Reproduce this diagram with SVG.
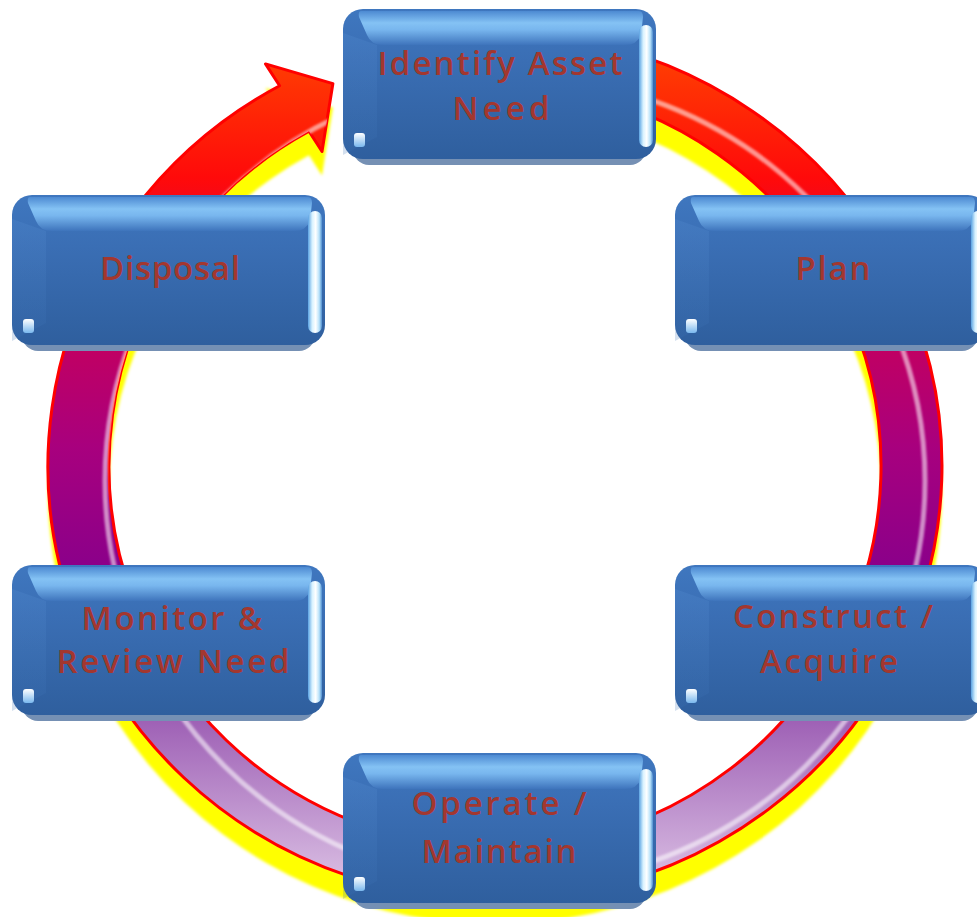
<svg xmlns="http://www.w3.org/2000/svg" xmlns:xlink="http://www.w3.org/1999/xlink" width="977" height="917" viewBox="0 0 977 917">
  <defs>
    <style>
      .t { font-family: "Open Sans", "Liberation Sans", Arial, sans-serif; font-size: 33px; font-weight: 600; fill: #a3372f; text-anchor: middle; }
    </style>
    <linearGradient id="ringFill" gradientUnits="userSpaceOnUse" x1="0" y1="30" x2="0" y2="900">
      <stop offset="0" stop-color="#ff4a00"/>
      <stop offset="0.17" stop-color="#ff0a0a"/>
      <stop offset="0.33" stop-color="#c8005a"/>
      <stop offset="0.48" stop-color="#a8007e"/>
      <stop offset="0.62" stop-color="#8a008a"/>
      <stop offset="0.78" stop-color="#9a5ab2"/>
      <stop offset="1" stop-color="#e0c8e8"/>
    </linearGradient>
    <filter id="soft" x="-5%" y="-5%" width="110%" height="110%">
      <feGaussianBlur stdDeviation="1.3"/>
    </filter>
    <filter id="soft2" x="-5%" y="-5%" width="110%" height="110%">
      <feGaussianBlur stdDeviation="1.8"/>
    </filter>
    <path id="band" d="M 572.6 38.6 A 447 434 0 1 1 279.6 85.7 L 265.5 63.9 L 332.9 83.6 L 322 151.5 L 309 131.3 A 386 382 0 1 0 562 89.8 Z"/>
    <clipPath id="bandClip">
      <use xlink:href="#band"/>
    </clipPath>
    <linearGradient id="bodyG" x1="0" y1="0" x2="0" y2="1">
      <stop offset="0" stop-color="#3f77bf"/>
      <stop offset="0.35" stop-color="#3a6eb4"/>
      <stop offset="1" stop-color="#2f5f9e"/>
    </linearGradient>
    <linearGradient id="topG" x1="0" y1="0" x2="0" y2="1">
      <stop offset="0" stop-color="#4d8ad2"/>
      <stop offset="0.35" stop-color="#84c2f4"/>
      <stop offset="0.55" stop-color="#78b6ee"/>
      <stop offset="1" stop-color="#3e74bc"/>
    </linearGradient>
    <linearGradient id="rightG" x1="0" y1="0" x2="1" y2="0">
      <stop offset="0" stop-color="#5aa2e2"/>
      <stop offset="0.3" stop-color="#d8f2ff"/>
      <stop offset="0.55" stop-color="#ffffff"/>
      <stop offset="0.8" stop-color="#b8e2fa"/>
      <stop offset="1" stop-color="#4f8fd0"/>
    </linearGradient>
    <linearGradient id="leftG" x1="0" y1="0" x2="0" y2="1">
      <stop offset="0" stop-color="#5a92d6"/>
      <stop offset="1" stop-color="#3a6fb2"/>
    </linearGradient>
    <linearGradient id="dotG" x1="0" y1="0" x2="0" y2="1">
      <stop offset="0" stop-color="#ffffff"/>
      <stop offset="1" stop-color="#7ab8ee"/>
    </linearGradient>
    <g id="box">
      <rect x="10" y="6" width="293" height="150" rx="16" fill="#7590b4"/>
      <rect x="0" y="0" width="313" height="150" rx="20" fill="url(#bodyG)"/>
      <path d="M 0 24 L 34 36 L 34 128 L 0 146 Z" fill="url(#leftG)" opacity="0.22"/>
      <path d="M 18 2 L 296 2 Q 300 2 300 8 L 298 26 Q 294 36 282 36 L 40 36 Q 28 36 24 26 L 16 8 Q 15 2 18 2 Z" fill="url(#topG)"/>
      <rect x="296" y="16" width="14" height="122" rx="7" fill="url(#rightG)"/>
      <rect x="11" y="124" width="11" height="14" rx="3" fill="url(#dotG)"/>
    </g>
  </defs>

  <rect width="977" height="917" fill="#ffffff"/>

  <g id="connectors">
    <use xlink:href="#band" transform="translate(0,24)" fill="#ffff00" filter="url(#soft2)"/>
    <use xlink:href="#band" fill="url(#ringFill)" stroke="#ff0000" stroke-width="3" stroke-linejoin="round"/>
    <g clip-path="url(#bandClip)">
      <ellipse cx="515" cy="481" rx="410" ry="404" fill="none" stroke="#ffffff" stroke-opacity="0.55" stroke-width="5" filter="url(#soft)"/>
    </g>
  </g>

  <g id="node-identify">
    <use xlink:href="#box" x="343" y="9"/>
    <text class="t" x="500" y="75" textLength="245" lengthAdjust="spacing">Identify Asset</text>
    <text class="t" x="501" y="120" textLength="97" lengthAdjust="spacing">Need</text>
  </g>
  <g id="node-plan">
    <use xlink:href="#box" x="675" y="195"/>
    <text class="t" x="833" y="280" textLength="75" lengthAdjust="spacing">Plan</text>
  </g>
  <g id="node-construct">
    <use xlink:href="#box" x="675" y="565"/>
    <text class="t" x="833" y="628" textLength="200" lengthAdjust="spacing">Construct /</text>
    <text class="t" x="829" y="673" textLength="138" lengthAdjust="spacing">Acquire</text>
  </g>
  <g id="node-operate">
    <use xlink:href="#box" x="343" y="753"/>
    <text class="t" x="499" y="815" textLength="175" lengthAdjust="spacing">Operate /</text>
    <text class="t" x="499" y="863" textLength="155" lengthAdjust="spacing">Maintain</text>
  </g>
  <g id="node-monitor">
    <use xlink:href="#box" x="12" y="565"/>
    <text class="t" x="172" y="630" textLength="181" lengthAdjust="spacing">Monitor &amp;</text>
    <text class="t" x="173" y="673" textLength="233" lengthAdjust="spacing">Review Need</text>
  </g>
  <g id="node-disposal">
    <use xlink:href="#box" x="12" y="195"/>
    <text class="t" x="170" y="280" textLength="140" lengthAdjust="spacing">Disposal</text>
  </g>
</svg>
